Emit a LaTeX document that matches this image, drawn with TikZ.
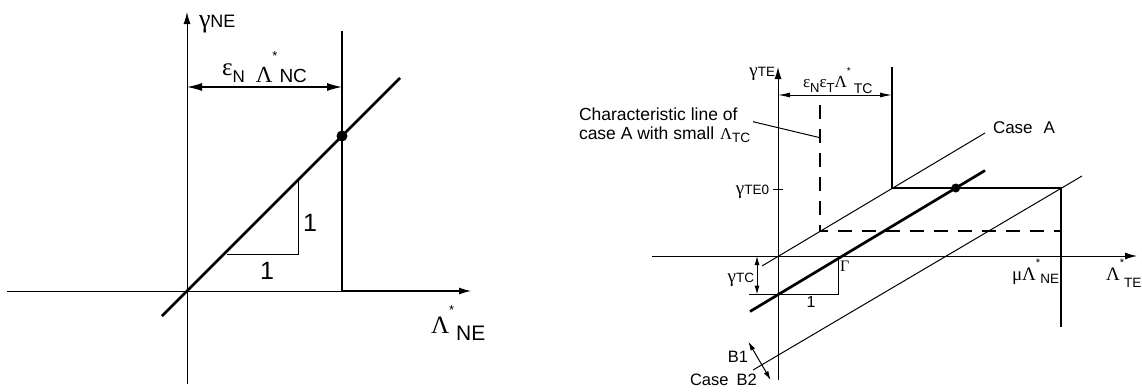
\documentclass[tikz,border=0pt]{standalone}
\usepackage{fontspec}
\setmainfont{Liberation Sans}
\newfontfamily\gk{Liberation Serif}
\usetikzlibrary{arrows.meta}
\newcommand{\fsz}[1]{\fontsize{#1}{#1}\selectfont}
\begin{document}
\begin{tikzpicture}[x=1pt,y=-1pt,
  thinln/.style={line width=1pt},
  thickln/.style={line width=2.9pt},
  diagln/.style={line width=2.7pt},
  dashln/.style={line width=2.6pt,dash pattern=on 14pt off 10pt},
  axisln/.style={line width=1pt,-{Latex[length=12pt,width=7pt]}},
  dimL/.style={line width=1.2pt,{Latex[length=15pt,width=8pt]}-{Latex[length=15pt,width=8pt]}},
  dimR/.style={line width=1pt,{Latex[length=12pt,width=5pt]}-{Latex[length=12pt,width=5pt]}},
  smallarr/.style={line width=1pt,{Latex[length=9pt,width=5pt]}-{Latex[length=9pt,width=5pt]}},
  dot/.style={circle,fill,inner sep=0pt},
  lbl/.style={inner sep=0pt,outer sep=0pt}]
\useasboundingbox (0,0) rectangle (1142,391);

% ---------------- left diagram ----------------
\coordinate (LyB) at (187,384);
\coordinate (LyT) at (187,12);
\coordinate (LxL) at (7,291);
\coordinate (LxR) at (471,291);
\draw[axisln] (LyB) -- (LyT);
\draw[axisln] (LxL) -- (LxR);
\coordinate (LcT) at (342,31);
\coordinate (LcB) at (342,291);
\coordinate (LcR) at (460,291);
\draw[thickln] (LcT) -- (LcB) -- (LcR);
\coordinate (LdA) at (162,316);
\coordinate (LdB) at (400,78);
\draw[diagln] (LdA) -- (LdB);
\node[dot,minimum size=11pt] (Ldot) at (342,136) {};
\coordinate (Lt1) at (227,254);
\coordinate (Lt2) at (298,254);
\coordinate (Lt3) at (298,180);
\draw[thinln] (Lt1) -- (Lt2) -- (Lt3);
\coordinate (Ld1) at (187,87);
\coordinate (Ld2) at (342,87);
\draw[dimL] (Ld1) -- (Ld2);
\node[lbl,anchor=base] (L1v) at (310,231) {\fsz{25}1};
\node[lbl,anchor=base] (L1h) at (267,279) {\fsz{25}1};
\node[lbl,anchor=base west] (LgNE) at (199,27) {{\gk\fsz{26}γ}{\fsz{18}NE}};
\node[lbl,anchor=base west] (LeNC) at (222,82) {\raisebox{7pt}{\gk\fsz{25}ε}{\fsz{17}N}\hspace{11pt}{\gk\fsz{23}Λ}\raisebox{22pt}{\fsz{13}*}\hspace{2pt}{\fsz{19}NC}};
\node[lbl,anchor=base west] (LLNE) at (431,333) {{\gk\fsz{25}Λ}\raisebox{19pt}{\fsz{13}*}\hspace{2pt}\raisebox{-7pt}{\fsz{21}NE}};

% ---------------- right diagram ----------------
\coordinate (RyB) at (778,380);
\coordinate (RyT) at (778,67);
\coordinate (RxL) at (652,256);
\coordinate (RxR) at (1137,256);
\draw[axisln] (RyB) -- (RyT);
\draw[axisln] (RxL) -- (RxR);
% thin case A line
\coordinate (RaA) at (762,266);
\coordinate (RaB) at (985,133);
\draw[thinln] (RaA) -- (RaB);
% thin lower line
\coordinate (RbA) at (753,370);
\coordinate (RbB) at (1082,176);
\draw[thinln] (RbA) -- (RbB);
% thick characteristic line
\coordinate (RcA) at (750,311.5);
\coordinate (RcB) at (985,170.5);
\draw[diagln] (RcA) -- (RcB);
% thick boundary
\coordinate (Rk1) at (892,67);
\coordinate (Rk2) at (892,188);
\coordinate (Rk3) at (1061,188);
\coordinate (Rk4) at (1061,327);
\draw[thickln] (Rk1) -- (Rk2) -- (Rk3) -- (Rk4);
\node[dot,minimum size=9pt] (Rdot) at (955.7,188) {};
% dashed
\coordinate (Rs1) at (820,105);
\coordinate (Rs2) at (820,231);
\coordinate (Rs3) at (1061,231);
\draw[dashln] (Rs1) -- (Rs2) -- (Rs3);
% dimension
\coordinate (Rd1) at (778,95);
\coordinate (Rd2) at (892,95);
\draw[dimR] (Rd1) -- (Rd2);
\node[lbl,anchor=base west] (ReTC) at (803,87) {{\gk\fsz{17}ε}\raisebox{-5pt}{\fsz{13}N}{\gk\fsz{17}ε}\raisebox{-5pt}{\fsz{13}T}{\gk\fsz{17}Λ}\raisebox{13pt}{\fsz{10}*}\hspace{3pt}\raisebox{-6pt}{\fsz{14}TC}};
% axis labels
\node[lbl,anchor=base east] (RgTE) at (775,76) {{\gk\fsz{19}γ}{\fsz{13.5}TE}};
\coordinate (Rt1) at (773,189);
\coordinate (Rt2) at (783,189);
\draw[thinln] (Rt1) -- (Rt2);
\node[lbl,anchor=base east] (RgTE0) at (769,194) {{\gk\fsz{19}γ}{\fsz{13.5}TE0}};
% gamma_TC dimension
\coordinate (Rg1) at (757,256);
\coordinate (Rg2) at (757,294.6);
\draw[smallarr] (Rg1) -- (Rg2);
\coordinate (Rh1) at (749,294.6);
\coordinate (Rh2) at (838,294.6);
\coordinate (Rh3) at (838,258.6);
\draw[thinln] (Rh1) -- (Rh2) -- (Rh3);
\node[lbl,anchor=base east] (RgTC) at (754,282) {{\gk\fsz{19}γ}{\fsz{13.5}TC}};
\node[lbl,anchor=base west] (RGam) at (840,271) {{\gk\fsz{16}Γ}};
\node[lbl,anchor=base] (R1) at (811,307) {\fsz{16}1};
\node[lbl,anchor=base east] (RmNE) at (1059,280) {{\gk\fsz{19}μΛ}\raisebox{14pt}{\fsz{11}*}\raisebox{-3pt}{\fsz{13.5}NE}};
\node[lbl,anchor=base west] (RLTE) at (1106,280) {{\gk\fsz{19}Λ}\raisebox{14pt}{\fsz{11}*}\raisebox{-7pt}{\fsz{13.5}TE}};
\node[lbl,anchor=base west] (RcaseA) at (993,133) {\fsz{17}Case\hspace{11pt}A};
% characteristic text + leader
\node[lbl,anchor=base west] (Rch1) at (579,120) {\fsz{17.5}Characteristic line of};
\node[lbl,anchor=base west] (Rch2) at (579,139) {\fsz{17.5}case A with small\hspace{6pt}{\gk\fsz{16.5}Λ}\raisebox{-3pt}{\fsz{13.5}TC}};
\coordinate (Rl1) at (753,121.7);
\coordinate (Rl2) at (820,137.7);
\draw[thinln] (Rl1) -- (Rl2);
% B1 / B2
\coordinate (Rb1) at (748.3,341.7);
\coordinate (Rb2) at (770.7,380);
\draw[smallarr] (Rb1) -- (Rb2);
\node[lbl,anchor=base east] (RB1) at (748,362) {\fsz{16.5}B1};
\node[lbl,anchor=base west] (RB2) at (690,385) {\fsz{16.5}Case\hspace{8pt}B2};
\end{tikzpicture}
\end{document}
